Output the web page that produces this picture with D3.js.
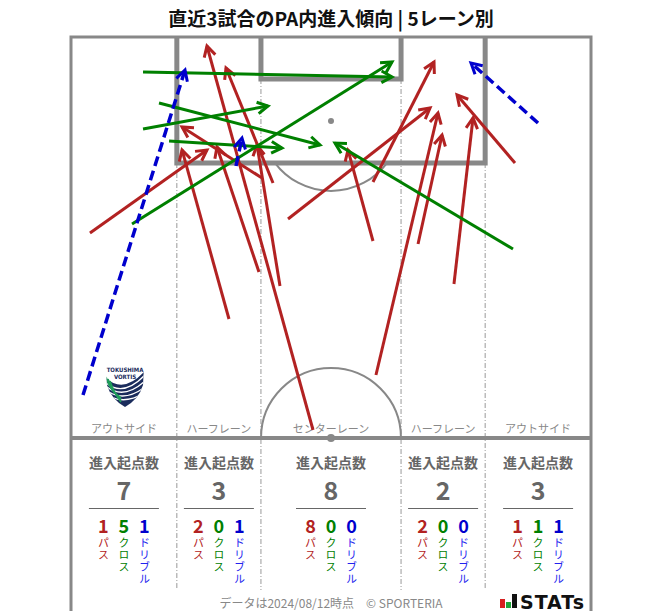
<!DOCTYPE html>
<html>
<head>
<meta charset="utf-8">
<script src="https://cdn.jsdelivr.net/npm/d3@7"></script>
<style>
  body { margin:0; background:#fff; }
  svg { font-family: "Noto Sans CJK JP", "Noto Sans", sans-serif; }
</style>
</head>
<body>
<svg id="chart" width="663" height="611"></svg>
<script>
// pitch is 68m wide, half length 52.5m; arrows are [x0, y0, x1, y1] in metres from top-left (goal line)
var passes = [
  [2.48, 25.66, 17.78, 14.79],
  [20.66, 36.92, 14.52, 14.79],
  [24.58, 30.77, 19.09, 14.40],
  [39.49, 26.71, 36.22, 14.79],
  [39.88, 44.25, 47.99, 9.95],
  [39.49, 18.98, 47.47, 3.27],
  [28.38, 23.83, 46.95, 9.30],
  [26.42, 19.11, 20.27, 4.06],
  [24.98, 18.46, 14.52, 11.78],
  [31.65, 51.45, 17.78, 1.18],
  [27.33, 32.60, 24.32, 14.14],
  [45.38, 27.10, 48.52, 12.83],
  [50.08, 32.34, 52.57, 10.60],
  [58.06, 16.50, 50.48, 7.59]
];
var crosses = [
  [9.42, 4.58, 41.98, 5.24],
  [7.98, 24.48, 41.98, 3.27],
  [11.51, 8.64, 32.56, 14.14],
  [9.42, 12.05, 25.76, 9.03],
  [12.82, 13.62, 27.59, 14.53],
  [57.80, 27.76, 34.52, 13.88]
];
var dribbles = [
  [1.57, 46.87, 14.91, 4.32],
  [21.58, 16.89, 22.36, 13.22],
  [61.07, 11.26, 52.31, 3.40]
];

var laneNames = ["アウトサイド", "ハーフレーン", "センターレーン", "ハーフレーン", "アウトサイド"];
var laneTotals = [7, 3, 8, 2, 3];
var lanePass = [1, 2, 8, 2, 1];
var laneCross = [5, 0, 0, 0, 1];
var laneDribble = [1, 1, 0, 0, 1];
var laneEdges = [0, 13.84, 24.84, 43.16, 54.16, 68];

var typeLabels = ["パス", "クロス", "ドリブル"];
var typeColors = ["#b22222", "#008000", "#0000cd"];

var svg = d3.select("#chart");
var x = d3.scaleLinear().domain([0, 68]).range([71, 591]);
var y = d3.scaleLinear().domain([0, 52.5]).range([37, 438]);
var lineCol = "#888";

// title
svg.append("text")
   .attr("x", 331).attr("y", 26)
   .attr("text-anchor", "middle")
   .attr("font-size", 19).attr("font-weight", "bold")
   .attr("fill", "#111")
   .text("直近3試合のPA内進入傾向 | 5レーン別");

var g = svg.append("g");

// lane dividers (dash-dot)
laneEdges.slice(1, 5).forEach(function(e, i){
    var top = (i == 0 || i == 3) ? 16.5 : 5.5;
    g.append("line")
     .attr("x1", x(e)).attr("x2", x(e))
     .attr("y1", y(top)).attr("y2", 590)
     .attr("stroke", "#999").attr("stroke-width", 1)
     .attr("stroke-dasharray", "5,2,1,2");
});

// outer frame
g.append("path")
 .attr("d", "M" + x(0) + ",611 L" + x(0) + "," + y(0) + " L" + x(68) + "," + y(0) + " L" + x(68) + ",611")
 .attr("fill", "none").attr("stroke", lineCol).attr("stroke-width", 3);

// halfway line
g.append("line")
 .attr("x1", x(0)).attr("x2", x(68)).attr("y1", y(52.5)).attr("y2", y(52.5))
 .attr("stroke", lineCol).attr("stroke-width", 4);

// penalty area and goal area
g.append("path")
 .attr("d", "M" + x(13.84) + "," + y(0) + " L" + x(13.84) + "," + y(16.5) + " L" + x(54.16) + "," + y(16.5) + " L" + x(54.16) + "," + y(0))
 .attr("fill", "none").attr("stroke", lineCol).attr("stroke-width", 5);
g.append("path")
 .attr("d", "M" + x(24.84) + "," + y(0) + " L" + x(24.84) + "," + y(5.5) + " L" + x(43.16) + "," + y(5.5) + " L" + x(43.16) + "," + y(0))
 .attr("fill", "none").attr("stroke", lineCol).attr("stroke-width", 5);

// penalty spot + D
var r = x(9.15) - x(0);
var half = Math.sqrt(9.15 * 9.15 - 5.5 * 5.5);
g.append("circle").attr("cx", x(34)).attr("cy", y(11)).attr("r", 3).attr("fill", lineCol);
g.append("path")
 .attr("d", "M" + x(34 - half) + "," + y(16.5) + " A" + r + "," + r + " 0 0 0 " + x(34 + half) + "," + y(16.5))
 .attr("fill", "none").attr("stroke", lineCol).attr("stroke-width", 2);

// centre circle + spot
g.append("path")
 .attr("d", "M" + x(34 - 9.15) + "," + y(52.5) + " A" + r + "," + r + " 0 0 1 " + x(34 + 9.15) + "," + y(52.5))
 .attr("fill", "none").attr("stroke", lineCol).attr("stroke-width", 2);
g.append("circle").attr("cx", x(34)).attr("cy", y(52.5)).attr("r", 4).attr("fill", lineCol);

// lane names
laneNames.forEach(function(n, i){
    g.append("text")
     .attr("x", x((laneEdges[i] + laneEdges[i + 1]) / 2)).attr("y", 433)
     .attr("text-anchor", "middle").attr("font-size", 11).attr("fill", "#888")
     .text(n);
});

// club crest (rough)
var crest = svg.append("g").attr("transform", "translate(125,383)");
crest.append("defs").append("clipPath").attr("id", "shield")
     .append("path").attr("d", "M-19,-17 L19,-17 L18,2 Q14,16 0,24 Q-14,16 -18,2 Z");
var sh = crest.append("g").attr("clip-path", "url(#shield)");
sh.append("path")
  .attr("d", "M-20,-6 Q-2,12 20,-12 L20,30 L-20,30 Z")
  .attr("fill", "#1b2c5c");
[0, 1, 2, 3].forEach(function(k){
    sh.append("path")
      .attr("d", "M" + (-20 + k * 2) + "," + (-1 + k * 5) + " Q" + (-2 + k) + "," + (15 + k * 2) + " 20," + (-8 + k * 6))
      .attr("fill", "none").attr("stroke", "#fff").attr("stroke-width", 1.3);
});
[0, 1, 2].forEach(function(k){
    sh.append("path")
      .attr("d", "M" + (-19 + k * 2) + "," + (-6 + k * 2) + " Q" + (-15 + k * 2) + "," + (8 + k) + " -4," + (15 + k * 2))
      .attr("fill", "none").attr("stroke", "#1f9e5a").attr("stroke-width", 1.6);
});
crest.append("text").attr("x", 0).attr("y", -11).attr("text-anchor", "middle")
     .attr("font-size", 6).attr("font-weight", "bold").attr("fill", "#1b2c5c")
     .attr("font-family", "DejaVu Sans Condensed, sans-serif").text("TOKUSHIMA");
crest.append("text").attr("x", 0).attr("y", -4).attr("text-anchor", "middle")
     .attr("font-size", 6).attr("font-weight", "bold").attr("fill", "#1b2c5c")
     .attr("font-family", "DejaVu Sans Condensed, sans-serif").text("VORTIS");

// arrows
function drawArrows(data, color, dashed){
    var ag = svg.append("g");
    data.forEach(function(d){
        var x0 = x(d[0]), y0 = y(d[1]), x1 = x(d[2]), y1 = y(d[3]);
        ag.append("line")
          .attr("x1", x0).attr("y1", y0).attr("x2", x1).attr("y2", y1)
          .attr("stroke", color).attr("stroke-width", dashed ? 3.5 : 3)
          .attr("stroke-dasharray", dashed ? "10,5" : null);
        var a = Math.atan2(y1 - y0, x1 - x0), len = 12, sp = 0.5;
        var pts = [
            [x1 - len * Math.cos(a - sp), y1 - len * Math.sin(a - sp)],
            [x1, y1],
            [x1 - len * Math.cos(a + sp), y1 - len * Math.sin(a + sp)]
        ];
        ag.append("path")
          .attr("d", d3.line()(pts))
          .attr("fill", "none").attr("stroke", color).attr("stroke-width", 3)
          .attr("stroke-linejoin", "miter");
    });
}
drawArrows(passes, typeColors[0], false);
drawArrows(crosses, typeColors[1], false);
drawArrows(dribbles, typeColors[2], true);

// stats per lane
var stats = svg.append("g");
laneNames.forEach(function(n, i){
    var cx = x((laneEdges[i] + laneEdges[i + 1]) / 2);
    stats.append("text").attr("x", cx).attr("y", 468)
         .attr("text-anchor", "middle").attr("font-size", 14).attr("font-weight", "bold")
         .attr("fill", "#666").text("進入起点数");
    stats.append("text").attr("x", cx).attr("y", 500)
         .attr("text-anchor", "middle").attr("font-size", 25).attr("font-weight", "bold")
         .attr("fill", "#666").text(laneTotals[i]);
    stats.append("line").attr("x1", cx - 35).attr("x2", cx + 35)
         .attr("y1", 508.5).attr("y2", 508.5).attr("stroke", "#666").attr("stroke-width", 1);
    var vals = [lanePass[i], laneCross[i], laneDribble[i]];
    vals.forEach(function(v, j){
        var vx = cx + (j - 1) * 20.5;
        stats.append("text").attr("x", vx).attr("y", 533)
             .attr("text-anchor", "middle").attr("font-size", 18).attr("font-weight", "bold")
             .attr("fill", typeColors[j]).text(v);
        stats.append("text").attr("x", vx).attr("y", 537)
             .style("writing-mode", "vertical-rl")
             .style("letter-spacing", "1px")
             .attr("font-size", 11)
             .attr("fill", j == 2 ? "#2222ee" : typeColors[j]).text(typeLabels[j]);
    });
});

// footer
svg.append("text").attr("x", 331).attr("y", 608)
   .attr("text-anchor", "middle").attr("font-size", 12).attr("fill", "#888")
   .text("データは2024/08/12時点　© SPORTERIA");

// STATs logo
var logo = svg.append("g").attr("transform", "translate(500,594)");
logo.append("rect").attr("x", 0).attr("y", 5).attr("width", 5).attr("height", 9).attr("fill", "#d62020");
logo.append("rect").attr("x", 6).attr("y", 8).attr("width", 5).attr("height", 6).attr("fill", "#1fa53a");
logo.append("rect").attr("x", 12).attr("y", 0).attr("width", 5).attr("height", 14).attr("fill", "#111");
logo.append("text").attr("x", 20).attr("y", 14.5)
    .attr("font-size", 19).attr("font-weight", "bold").attr("fill", "#111")
    .attr("textLength", 64)
    .attr("font-family", "DejaVu Sans, sans-serif").text("STATs");
</script>
</body>
</html>
